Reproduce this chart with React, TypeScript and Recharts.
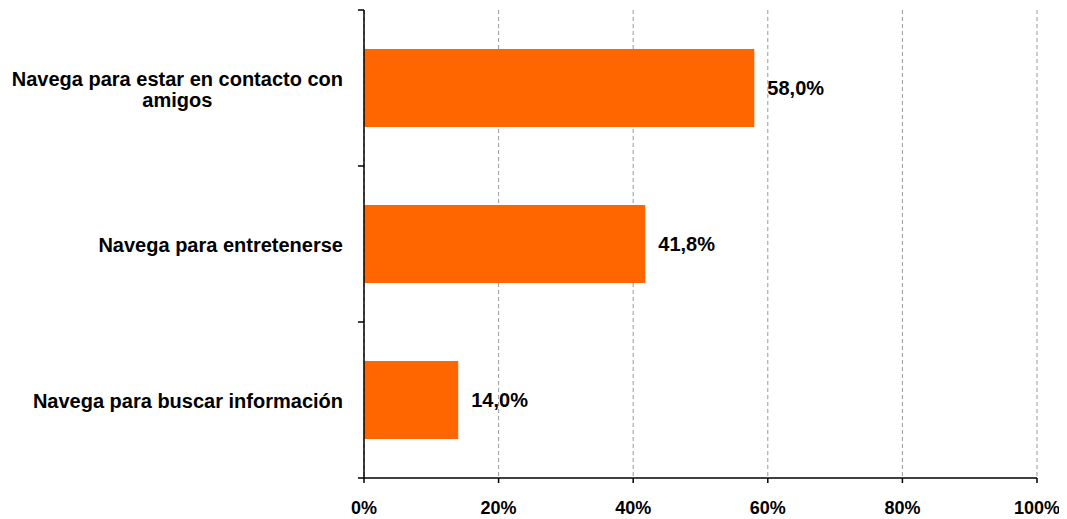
import { BarChart, Bar, XAxis, YAxis, CartesianGrid, LabelList } from 'recharts';

const categories = ['Navega para estar en contacto con|amigos', 'Navega para entretenerse', 'Navega para buscar información'];
const values = [58.0, 41.8, 14.0];
const xTicks = [0, 20, 40, 60, 80, 100];

const data = categories.map((c, i) => ({ name: c, value: values[i] }));

const FONT = "'Liberation Sans', Arial, sans-serif";
const CAT_SIZE = 20;
const VAL_SIZE = 20;
const TICK_SIZE = 18;
const W = 1059;
const H = 511;
const MARGIN = { top: 2, right: 30, bottom: 11, left: 0 };
const X_AXIS_H = 30;
const BAND = (H - MARGIN.top - MARGIN.bottom - X_AXIS_H) / categories.length;

let ctx: CanvasRenderingContext2D | null = null;
function measure(s: string) {
  if (!ctx) ctx = document.createElement('canvas').getContext('2d');
  if (!ctx) return s.length * 10;
  ctx.font = `bold ${CAT_SIZE}px ${FONT}`;
  return ctx.measureText(s).width;
}

function CategoryTick(props: any) {
  const { x, y, payload, index } = props;
  const lines: string[] = String(payload.value).split('|');
  const right = x - 21;
  const widest = Math.max(...lines.map(measure));
  const cx = right - widest / 2;
  const lh = 21;
  const y0 = y + 1 - ((lines.length - 1) * lh) / 2;
  return (
    <g>
      <line x1={x - 6} x2={x} y1={y - BAND / 2} y2={y - BAND / 2} stroke="#000" strokeWidth={1.5} />
      {index === categories.length - 1 && (
        <line x1={x - 6} x2={x} y1={y + BAND / 2} y2={y + BAND / 2} stroke="#000" strokeWidth={1.5} />
      )}
      {lines.map((l, i) => (
        <text
          key={i}
          x={lines.length > 1 ? cx : right}
          y={y0 + i * lh}
          dy="0.35em"
          textAnchor={lines.length > 1 ? 'middle' : 'end'}
          fontFamily={FONT}
          fontWeight="bold"
          fontSize={CAT_SIZE}
          fill="#000"
        >
          {l}
        </text>
      ))}
    </g>
  );
}

export default function App() {
  return (
    <div style={{ width: W, height: H, background: '#fff' }}>
      <BarChart
        width={W}
        height={H}
        data={data}
        layout="vertical"
        margin={MARGIN}
        barCategoryGap="25%"
      >
        <CartesianGrid horizontal={false} stroke="#999" strokeDasharray="4 3" />
        <XAxis
          type="number"
          domain={[0, 100]}
          ticks={xTicks}
          tickFormatter={(v) => `${v}%`}
          axisLine={{ stroke: '#000', strokeWidth: 1.5 }}
          tickLine={{ stroke: '#000', strokeWidth: 1.5 }}
          tickSize={5}
          tickMargin={18}
          height={X_AXIS_H}
          tick={{ fill: '#000', fontFamily: FONT, fontWeight: 'bold', fontSize: TICK_SIZE }}
          interval={0}
        />
        <YAxis
          type="category"
          dataKey="name"
          width={356}
          axisLine={{ stroke: '#000', strokeWidth: 1.5 }}
          tickLine={false}
          tickSize={0}
          tickMargin={0}
          tick={<CategoryTick />}
          interval={0}
        />
        <Bar dataKey="value" fill="#FF6600" isAnimationActive={false}>
          <LabelList
            dataKey="value"
            position="right"
            offset={13}
            formatter={(v: any) => `${Number(v).toFixed(1).replace('.', ',')}%`}
            style={{ fill: '#000', fontFamily: FONT, fontWeight: 'bold', fontSize: VAL_SIZE }}
          />
        </Bar>
      </BarChart>
    </div>
  );
}
